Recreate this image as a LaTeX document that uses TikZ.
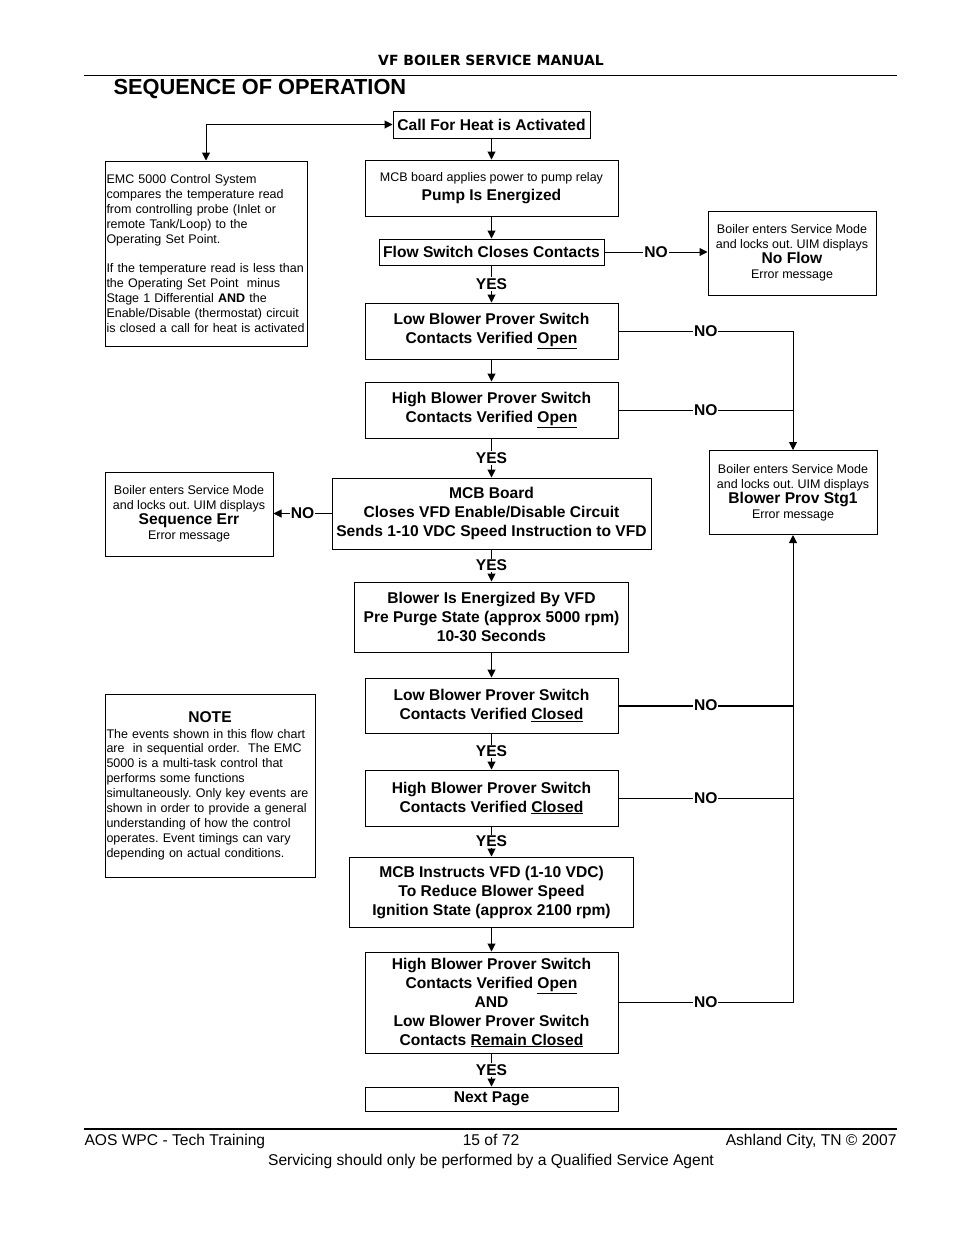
\documentclass[tikz,border=0pt]{standalone}
\usepackage{fontspec}
\setmainfont{Liberation Sans}
\newfontfamily\hdrfont{DejaVu Sans}
\usetikzlibrary{arrows.meta}
\newcommand\bigtxt{\fontsize{15.6}{19}\selectfont\bfseries}
\newcommand\smtxt{\fontsize{12.5}{14.9}\selectfont\mdseries\frenchspacing}

\begin{document}
\begin{tikzpicture}[x=1pt,y=-1pt,line width=1pt,
        box/.style={draw,align=center,inner sep=2pt,font=\bigtxt},
        msg/.style={draw,align=center,inner sep=2pt,font=\smtxt,minimum width=168,minimum height=84},
        lbl/.style={fill=white,font=\bigtxt,inner sep=1pt},
        foot/.style={inner sep=0pt,font=\fontsize{15.6}{19}\selectfont},
        arr/.style={-{Triangle[length=8pt,width=8pt]}},
        twoarr/.style={{Triangle[length=8pt,width=8pt]}-{Triangle[length=8pt,width=8pt]}}]
      \useasboundingbox (0,0) rectangle (954,1235);
      \node[font=\hdrfont\bfseries\fontsize{14}{16}\selectfont] (hdr) at (491,60) {VF BOILER SERVICE MANUAL};
      \draw (84,75) -- (897,75);
      \node[anchor=west,inner sep=0pt,font=\fontsize{21.8}{26}\selectfont\bfseries] (title) at (113,89) {SEQUENCE OF OPERATION};

      \node[box,minimum width=197,minimum height=27] (call) at (491.5,124.5) {Call For Heat is Activated};
      \node[box,minimum width=253,minimum height=56] (pump) at (491.5,188) {{\smtxt MCB board applies power to pump relay}\\Pump Is Energized};
      \node[box,minimum width=225,minimum height=26] (flow) at (491.5,252) {Flow Switch Closes Contacts};
      \node[box,minimum width=253,minimum height=56] (lowopen) at (491.5,331) {Low Blower Prover Switch\\Contacts Verified \underline{Open}};
      \node[box,minimum width=253,minimum height=56] (highopen) at (491.5,410) {High Blower Prover Switch\\Contacts Verified \underline{Open}};
      \node[box,minimum width=319,minimum height=71] (mcb) at (491.5,513.5) {MCB Board\\Closes VFD Enable/Disable Circuit\\Sends 1-10 VDC Speed Instruction to VFD};
      \node[box,minimum width=274,minimum height=70] (blower) at (491.5,617) {Blower Is Energized By VFD\\Pre Purge State (approx 5000 rpm)\\10-30 Seconds};
      \node[box,minimum width=253,minimum height=55] (lowclosed) at (491.5,705.5) {Low Blower Prover Switch\\Contacts Verified \underline{Closed}};
      \node[box,minimum width=253,minimum height=56] (highclosed) at (491.5,798) {High Blower Prover Switch\\Contacts Verified \underline{Closed}};
      \node[box,minimum width=284,minimum height=70] (reduce) at (491.5,892) {MCB Instructs VFD (1-10 VDC)\\To Reduce Blower Speed\\Ignition State (approx 2100 rpm)};
      \node[box,minimum width=253,minimum height=101] (andbox) at (491.5,1002.5) {High Blower Prover Switch\\Contacts Verified \underline{Open}\\AND\\Low Blower Prover Switch\\Contacts \underline{Remain Closed}};
      \node[box,minimum width=253,minimum height=24] (next) at (491.5,1099) {Next Page};

      \node[draw,font=\smtxt,align=left,inner sep=1.5pt,text width=199,minimum height=185] (emc) at (206,253.5) {EMC 5000 Control System\\compares the temperature read\\from controlling probe (Inlet or\\remote Tank/Loop) to the\\Operating Set Point.\\[14.9pt]If the temperature read is less than\\the Operating Set Point\ \ minus\\Stage 1 Differential \textbf{AND} the\\Enable/Disable (thermostat) circuit\\is closed a call for heat is activated};
      \node[msg] (noflow) at (792,253) {Boiler enters Service Mode\\and locks out. UIM displays\\{\bigtxt No Flow}\\Error message};
      \node[msg] (prov) at (793,492.5) {Boiler enters Service Mode\\and locks out. UIM displays\\{\bigtxt Blower Prov Stg1}\\Error message};
      \node[msg] (seqerr) at (189,514) {Boiler enters Service Mode\\and locks out. UIM displays\\{\bigtxt Sequence Err}\\Error message};
      \node[draw,font=\smtxt,align=left,inner sep=1.5pt,text width=207,minimum height=183] (note) at (210,785.5) {\makebox[207pt]{\bigtxt NOTE}\\[1pt]The events shown in this flow chart\\are\ \ in sequential order.\ \ The EMC\\5000 is a multi-task control that\\performs some functions\\simultaneously. Only key events are\\shown in order to provide a general\\understanding of how the control\\operates. Event timings can vary\\depending on actual conditions.};

      \draw[twoarr] (emc.north) |- (call.west);
      \foreach \a/\b in {call/pump, pump/flow, lowopen/highopen, blower/lowclosed, reduce/andbox}
        \draw[arr] (\a.south) -- (\b.north);
      \foreach \a/\b in {flow/lowopen, highopen/mcb, mcb/blower, lowclosed/highclosed, highclosed/reduce, andbox/next}
        \draw[arr] (\a.south) -- node[lbl] {YES} (\b.north);

      \draw[arr] (flow.east) -- node[lbl] {NO} (flow.east -| noflow.west);
      \draw[arr] (mcb.west) -- node[lbl] {NO} (mcb.west -| seqerr.east);
      \draw[arr] (lowopen.east) -- node[lbl] {NO} (lowopen.east -| prov.north) -- (prov.north);
      \draw (highopen.east) -- node[lbl] {NO} (highopen.east -| prov.north);
      \draw[arr] (andbox.east) -- node[lbl] {NO} (andbox.east -| prov.south) -- (prov.south);
      \draw[line width=2pt] (lowclosed.east) -- node[lbl] {NO} (lowclosed.east -| prov.south);
      \draw (highclosed.east) -- node[lbl] {NO} (highclosed.east -| prov.south);

      \draw[line width=1.6pt] (84,1129) -- (897,1129);
      \node[foot,anchor=base west] (ftl) at (84,1145.5) {AOS WPC - Tech Training};
      \node[foot,anchor=base] (ftc) at (491,1145.5) {15 of 72};
      \node[foot,anchor=base east] (ftr) at (897,1145.5) {Ashland City, TN \textcopyright{} 2007};
      \node[foot,anchor=base] (fts) at (491,1165.5) {Servicing should only be performed by a Qualified Service Agent};
    \end{tikzpicture}
\end{document}
